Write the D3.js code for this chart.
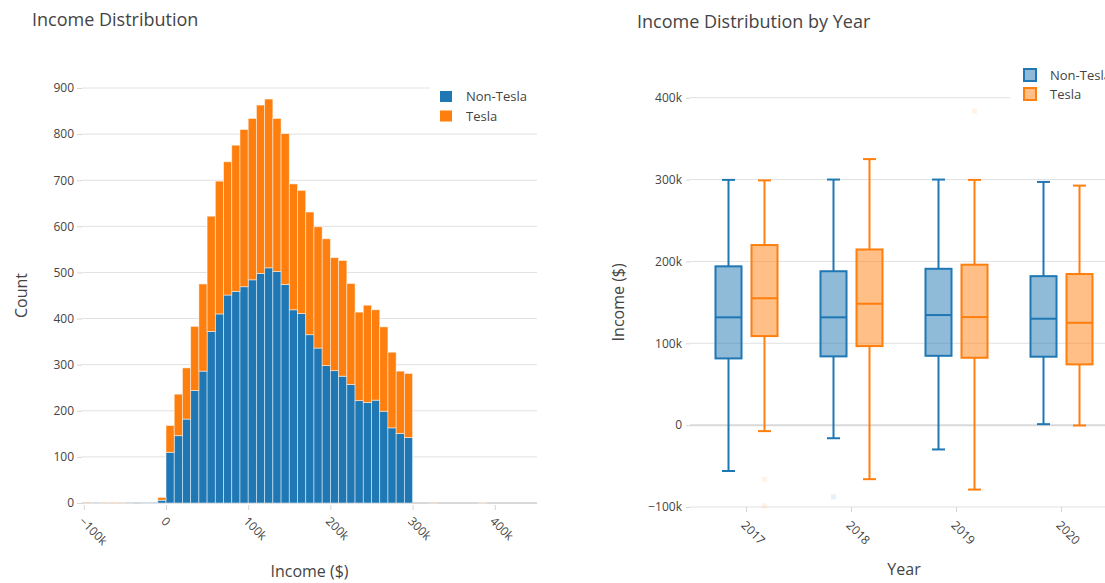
<!DOCTYPE html>
<html>
<head>
<meta charset="utf-8">
<script src="https://cdn.jsdelivr.net/npm/d3@7"></script>
<style>
  body { margin: 0; background: #fff; }
  text { font-family: "Open Sans", sans-serif; fill: #444; }
</style>
</head>
<body>
<div id="container"></div>
<script>
let w = 1105;
let h = 583;

// ---- data: histogram (10k bins starting at -100k) ----
let series = ["Non-Tesla", "Tesla"];
let colors = ["#1f77b4", "#ff7f0e"];
let binStart = d3.range(-100000, 450000, 10000);
let nonTeslaCounts = [
  1, 1, 0, 0, 0, 1, 0, 1, 1, 6,
  110, 146, 182, 244, 286, 372, 410, 451, 459, 469,
  484, 498, 510, 502, 474, 419, 411, 365, 336, 298,
  287, 275, 257, 222, 218, 223, 199, 163, 151, 142,
  0, 0, 1, 0, 0, 0, 0, 0, 0, 0,
  0, 0, 0, 0, 0
];
let teslaCounts = [
  1, 0, 1, 1, 1, 0, 0, 0, 0, 6,
  58, 90, 111, 139, 189, 250, 288, 289, 317, 341,
  350, 365, 366, 332, 327, 273, 267, 266, 263, 275,
  245, 251, 219, 192, 211, 196, 183, 164, 135, 139,
  0, 0, 1, 0, 0, 0, 0, 0, 1, 0,
  0, 0, 0, 0, 0
];
let countTicks = [0, 100, 200, 300, 400, 500, 600, 700, 800, 900];
let incomeTicks = [-100000, 0, 100000, 200000, 300000, 400000];

// ---- data: box plots by year ----
let years = ["2017", "2018", "2019", "2020"];
// each row: [lower whisker, q1, median, q3, upper whisker]
let nonTeslaBox = [
  [-56000, 81500, 131700, 194000, 299600],
  [-16000, 84000, 131700, 188000, 300000],
  [-29700, 84700, 134500, 191000, 300000],
  [1200, 83600, 130000, 182000, 297100]
];
let teslaBox = [
  [-7300, 108800, 155000, 220000, 299000],
  [-66000, 96600, 148300, 214600, 325000],
  [-78700, 82300, 132000, 196000, 299600],
  [-400, 74200, 125000, 184600, 292600]
];
let nonTeslaOutliers = [[], [-87600], [], []];
let teslaOutliers = [[-66000, -98600], [], [383600], []];
let boxTicks = [-100000, 0, 100000, 200000, 300000, 400000];

let kfmt = d3.format("~s");

let viz = d3.select("#container")
  .append("svg")
    .attr("width", w)
    .attr("height", h)
    .style("background-color", "white");

// =================== left: histogram ===================
let hx0 = 82, hx1 = 537, hy1 = 505;
let xScale = d3.scaleLinear().domain([-100000, 400000]).range([83.8, 494.8]);
let yScale = d3.scaleLinear().domain([0, 900]).range([503, 88]);

let hist = viz.append("g");

hist.selectAll(".grid").data(countTicks.filter(d => d != 0)).enter()
  .append("line")
    .attr("x1", hx0).attr("x2", hx1)
    .attr("y1", d => yScale(d)).attr("y2", d => yScale(d))
    .attr("stroke", "#e1e1e1").attr("stroke-width", 1);

hist.append("line")
  .attr("x1", hx0).attr("x2", hx1)
  .attr("y1", yScale(0)).attr("y2", yScale(0))
  .attr("stroke", "#d9d9d9").attr("stroke-width", 2);

let binW = xScale(10000) - xScale(0);
let stacks = [nonTeslaCounts, teslaCounts];
stacks.forEach(function(counts, s){
  hist.selectAll(".bar" + s).data(binStart).enter()
    .append("rect")
      .attr("x", d => xScale(d))
      .attr("width", binW)
      .attr("y", function(d, i){
        let base = s == 0 ? 0 : nonTeslaCounts[i];
        return yScale(base + counts[i]);
      })
      .attr("height", (d, i) => yScale(0) - yScale(counts[i]))
      .attr("fill", colors[s])
      .attr("stroke", "rgba(255,255,255,0.6)")
      .attr("stroke-width", 0.8);
});

let yAxis = d3.axisLeft(yScale).tickValues(countTicks).tickSize(5).tickPadding(3);
let yAxisGroup = hist.append("g").attr("transform", "translate(" + hx0 + ",0)").call(yAxis);
yAxisGroup.select(".domain").remove();
yAxisGroup.selectAll("line").attr("stroke", "#d6d6d6");
yAxisGroup.selectAll("text").style("font-size", "12px").style("font-family", "Open Sans");

let xAxis = d3.axisBottom(xScale).tickValues(incomeTicks).tickSize(5).tickFormat(kfmt);
let xAxisGroup = hist.append("g").attr("transform", "translate(0," + hy1 + ")").call(xAxis);
xAxisGroup.select(".domain").remove();
xAxisGroup.selectAll("line").attr("stroke", "#d6d6d6");
xAxisGroup.selectAll("text")
  .attr("x", 0).attr("y", 0).attr("dy", "0.35em")
  .attr("text-anchor", "start")
  .attr("transform", "translate(-3,14) rotate(45)")
  .style("font-size", "12px").style("font-family", "Open Sans");

// legend
hist.append("rect").attr("x", 430).attr("y", 82).attr("width", 107).attr("height", 44).attr("fill", "white");
series.forEach(function(s, i){
  hist.append("rect").attr("x", 440).attr("y", 91 + i * 19.5).attr("width", 12).attr("height", 11).attr("fill", colors[i]);
  hist.append("text").attr("x", 466).attr("y", 96.5 + i * 19.5).attr("dy", "0.35em")
    .style("font-size", "13px").text(s);
});

hist.append("text").attr("x", 32).attr("y", 26).style("font-size", "18px").text("Income Distribution");
hist.append("text").attr("x", (hx0 + hx1) / 2).attr("y", 577).attr("text-anchor", "middle")
  .style("font-size", "16px").text("Income ($)");
hist.append("text").attr("transform", "translate(27," + yScale(450) + ") rotate(-90)")
  .attr("text-anchor", "middle").style("font-size", "16px").text("Count");

// =================== right: box plots ===================
let bx0 = 690, bx1 = 1114, by1 = 507;
let box = viz.append("g");

let xBand = d3.scaleBand().domain(years).range([694, 1114]);
let bandW = xBand.bandwidth();
let xSub = d3.scaleBand().domain(series).range([bandW / 2 - 36, bandW / 2 + 36]);
let boxW = 26;
let capW = 13;
let yBox = d3.scaleLinear().domain([-100000, 400000]).range([507, 97.7]);

box.selectAll(".bgrid").data(boxTicks.filter(d => d != 0)).enter()
  .append("line")
    .attr("x1", bx0).attr("x2", bx1)
    .attr("y1", d => yBox(d)).attr("y2", d => yBox(d))
    .attr("stroke", "#e1e1e1").attr("stroke-width", 1);
box.append("line")
  .attr("x1", bx0).attr("x2", bx1)
  .attr("y1", yBox(0)).attr("y2", yBox(0))
  .attr("stroke", "#d9d9d9").attr("stroke-width", 2);

let boxSets = [nonTeslaBox, teslaBox];
let outSets = [nonTeslaOutliers, teslaOutliers];
series.forEach(function(s, si){
  let g = box.append("g");
  years.forEach(function(yr, i){
    let st = boxSets[si][i];
    let cx = xBand(yr) + xSub(s) + xSub.bandwidth() / 2;
    // whiskers
    g.append("line").attr("x1", cx).attr("x2", cx).attr("y1", yBox(st[3])).attr("y2", yBox(st[4]))
      .attr("stroke", colors[si]).attr("stroke-width", 2);
    g.append("line").attr("x1", cx).attr("x2", cx).attr("y1", yBox(st[1])).attr("y2", yBox(st[0]))
      .attr("stroke", colors[si]).attr("stroke-width", 2);
    [st[0], st[4]].forEach(function(v){
      g.append("line").attr("x1", cx - capW / 2).attr("x2", cx + capW / 2)
        .attr("y1", yBox(v)).attr("y2", yBox(v))
        .attr("stroke", colors[si]).attr("stroke-width", 2);
    });
    // box
    g.append("rect").attr("x", cx - boxW / 2).attr("width", boxW)
      .attr("y", yBox(st[3])).attr("height", yBox(st[1]) - yBox(st[3]))
      .attr("fill", colors[si]).attr("fill-opacity", 0.5)
      .attr("stroke", colors[si]).attr("stroke-width", 2);
    g.append("line").attr("x1", cx - boxW / 2).attr("x2", cx + boxW / 2)
      .attr("y1", yBox(st[2])).attr("y2", yBox(st[2]))
      .attr("stroke", colors[si]).attr("stroke-width", 2);
    // outliers (very faint)
    outSets[si][i].forEach(function(v){
      g.append("rect").attr("x", cx - 2.5).attr("y", yBox(v) - 2.5).attr("width", 5).attr("height", 5)
        .attr("fill", colors[si]).attr("opacity", 0.1);
    });
  });
});

let yAxisB = d3.axisLeft(yBox).tickValues(boxTicks).tickSize(4).tickPadding(4).tickFormat(kfmt);
let yAxisBGroup = box.append("g").attr("transform", "translate(" + bx0 + ",0)").call(yAxisB);
yAxisBGroup.select(".domain").remove();
yAxisBGroup.selectAll("line").attr("stroke", "#d6d6d6");
yAxisBGroup.selectAll("text").style("font-size", "12px").style("font-family", "Open Sans");

let xAxisB = d3.axisBottom(xBand).tickSize(5);
let xAxisBGroup = box.append("g").attr("transform", "translate(0," + by1 + ")").call(xAxisB);
xAxisBGroup.select(".domain").remove();
xAxisBGroup.selectAll("line").attr("stroke", "#d6d6d6");
xAxisBGroup.selectAll("text")
  .attr("x", 0).attr("y", 0).attr("dy", "0.35em")
  .attr("text-anchor", "start")
  .attr("transform", "translate(-3,16) rotate(45)")
  .style("font-size", "12px").style("font-family", "Open Sans");

// legend
box.append("rect").attr("x", 1010).attr("y", 62).attr("width", 100).attr("height", 42).attr("fill", "white");
series.forEach(function(s, i){
  box.append("rect").attr("x", 1024).attr("y", 69 + i * 19).attr("width", 12).attr("height", 12)
    .attr("fill", colors[i]).attr("fill-opacity", 0.5)
    .attr("stroke", colors[i]).attr("stroke-width", 2);
  box.append("text").attr("x", 1050).attr("y", 75 + i * 19).attr("dy", "0.35em")
    .style("font-size", "13px").text(s);
});

box.append("text").attr("x", 637).attr("y", 28).style("font-size", "18px").text("Income Distribution by Year");
box.append("text").attr("x", (694 + 1114) / 2).attr("y", 575).attr("text-anchor", "middle")
  .style("font-size", "16px").text("Year");
box.append("text").attr("transform", "translate(624," + yBox(150000) + ") rotate(-90)")
  .attr("text-anchor", "middle").style("font-size", "16px").text("Income ($)");
</script>
</body>
</html>
